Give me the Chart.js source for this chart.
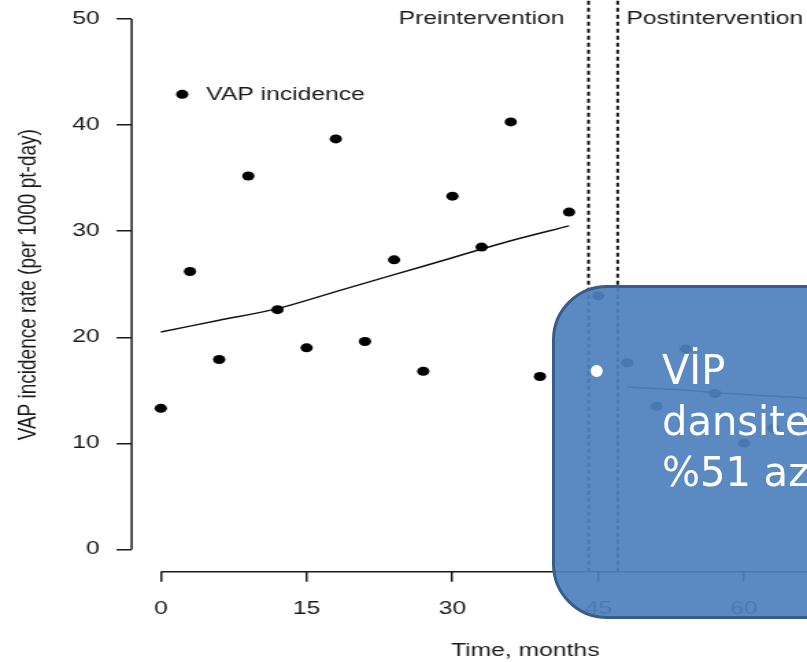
<!DOCTYPE html>
<html>
<head>
<meta charset="utf-8">
<title>VAP incidence</title>
<script src="https://cdn.jsdelivr.net/npm/chart.js@4.4.0/dist/chart.umd.min.js"></script>
<style>
  html, body { margin: 0; padding: 0; background: #fff; overflow: hidden; width: 807px; height: 662px; }
  #wrap { position: absolute; left: 0; top: -20px; width: 700px; height: 700px; transform: scaleX(1.37); transform-origin: 0 0; }
  #note {
    position: absolute; left: 552px; top: 285px; width: 420px; height: 334px;
    box-sizing: border-box; background: rgba(79, 129, 189, 0.93);
    border: 3.5px solid #385d8a; border-radius: 55px;
    color: #fff; font-family: 'DejaVu Sans', sans-serif;
    font-size: 40px; line-height: 51px; white-space: nowrap;
    padding: 57px 0 0 107px;
  }
  #note .bullet { position: absolute; left: 34px; top: 57px; font-family: 'Liberation Sans', Arial, sans-serif; font-size: 44px; }
</style>
</head>
<body>
<div id="wrap"><canvas id="vapChart"></canvas></div>
<div id="note"><span class="bullet">•</span>VİP<br>dansitesinde<br>%51 azalma</div>

<script>
// values
const preMonths = [0, 3, 6, 9, 12, 15, 18, 21, 24, 27, 30, 33, 36, 39, 42];
const preRate = [13.3, 26.2, 17.9, 35.2, 22.6, 19.0, 38.7, 19.6, 27.3, 16.8, 33.3, 28.5, 40.3, 16.3, 31.8];
const postMonths = [45, 48, 51, 54, 57, 60, 63];
const postRate = [23.9, 17.6, 13.5, 18.9, 14.7, 10.0, 11.4];
const preTrendMonths = [0, 6, 12, 18, 24, 30, 36, 42];
const preTrend = [20.5, 21.6, 22.7, 24.3, 25.9, 27.5, 29.1, 30.5];
const postTrendMonths = [48, 54, 60, 66, 69];
const postTrend = [15.3, 15.0, 14.6, 14.3, 14.1];
const phaseBounds = [44, 47];
const phaseLabels = ['Preintervention', 'Postintervention'];
const phaseLabelMonths = [33, 57];
const xTicks = [0, 15, 30, 45, 60, 75];
const yTicks = [0, 10, 20, 30, 40, 50];
const seriesName = 'VAP incidence';

const FONT = "'Liberation Sans', Arial, sans-serif";
const INK = '#1a1a1a';

function pts(xs, ys) {
  return xs.map((x, i) => ({ x: x, y: ys[i] }));
}

// R style axes: lines only over the tick range, plus text labels and legend
const rAxes = {
  id: 'rAxes',
  afterDatasetsDraw(chart) {
    const { ctx, chartArea, scales: { x, y } } = chart;
    ctx.save();
    ctx.strokeStyle = INK;
    ctx.lineWidth = 1.5;
    ctx.beginPath();
    ctx.moveTo(chartArea.left, y.getPixelForValue(yTicks[0]));
    ctx.lineTo(chartArea.left, y.getPixelForValue(yTicks[yTicks.length - 1]));
    ctx.moveTo(x.getPixelForValue(xTicks[0]), chartArea.bottom);
    ctx.lineTo(x.getPixelForValue(xTicks[xTicks.length - 1]), chartArea.bottom);
    ctx.stroke();

    ctx.fillStyle = INK;
    ctx.font = '18px ' + FONT;
    ctx.textAlign = 'center';
    ctx.textBaseline = 'middle';
    phaseLabels.forEach((t, i) => {
      ctx.fillText(t, x.getPixelForValue(phaseLabelMonths[i]), y.getPixelForValue(50));
    });

    // legend inside the plot
    const lx = x.getPixelForValue(2.2);
    const ly = y.getPixelForValue(42.9);
    ctx.fillStyle = '#000';
    ctx.beginPath();
    ctx.arc(lx, ly, 4.5, 0, Math.PI * 2);
    ctx.fill();
    ctx.fillStyle = INK;
    ctx.textAlign = 'left';
    ctx.fillText(seriesName, lx + 17.5, ly + 1);
    ctx.restore();
  }
};

const dotStyle = { pointRadius: 4.5, pointBackgroundColor: '#000', pointBorderWidth: 0, showLine: false };
const trendStyle = { showLine: true, pointRadius: 0, borderColor: '#111', borderWidth: 1.5, tension: 0.3, fill: false };
const boundStyle = { showLine: true, pointRadius: 0, borderColor: '#111', borderWidth: 2, borderDash: [4, 3] };

new Chart(document.getElementById('vapChart'), {
  type: 'scatter',
  data: {
    datasets: [
      Object.assign({ label: seriesName, data: pts(preMonths, preRate) }, dotStyle),
      Object.assign({ label: seriesName + ' post', data: pts(postMonths, postRate) }, dotStyle),
      Object.assign({ label: 'Pre trend', data: pts(preTrendMonths, preTrend) }, trendStyle),
      Object.assign({ label: 'Post trend', data: pts(postTrendMonths, postTrend) }, trendStyle),
      Object.assign({ label: 'Start', data: [{ x: phaseBounds[0], y: -2.1 }, { x: phaseBounds[0], y: 52 }] }, boundStyle),
      Object.assign({ label: 'End', data: [{ x: phaseBounds[1], y: -2.1 }, { x: phaseBounds[1], y: 52 }] }, boundStyle)
    ]
  },
  options: {
    responsive: true,
    maintainAspectRatio: false,
    animation: false,
    layout: { padding: { left: 0, top: 17.8, right: 29.2, bottom: 0 } },
    plugins: {
      legend: { display: false },
      tooltip: { enabled: false }
    },
    scales: {
      x: {
        type: 'linear',
        min: -3,
        max: 78,
        afterBuildTicks: axis => { axis.ticks = xTicks.map(v => ({ value: v })); },
        afterFit: axis => {
          axis.height = 108.3;
          axis.paddingLeft = 0;
          axis.paddingRight = 0;
        },
        grid: { drawOnChartArea: false, drawTicks: true, tickLength: 10, color: INK, lineWidth: 1.5 },
        border: { display: false },
        ticks: { padding: 17, color: INK, font: { family: FONT, size: 18 }, maxRotation: 0, autoSkip: false },
        title: { display: true, text: 'Time, months', color: INK, font: { family: FONT, size: 18 }, padding: { top: 0, bottom: 18.6 } }
      },
      y: {
        min: -2.1,
        max: 52,
        afterBuildTicks: axis => { axis.ticks = yTicks.map(v => ({ value: v })); },
        afterFit: axis => {
          axis.width = 96.1;
          axis.paddingTop = 0;
          axis.paddingBottom = 0;
        },
        grid: { drawOnChartArea: false, drawTicks: true, tickLength: 11, color: INK, lineWidth: 1.5 },
        border: { display: false },
        ticks: { padding: 12.4, color: INK, font: { family: FONT, size: 18 } },
        title: { display: true, text: 'VAP incidence rate (per 1000 pt-day)', color: INK, font: { family: FONT, size: 19 }, padding: { top: 9.8, bottom: 0 } }
      }
    }
  },
  plugins: [rAxes]
});
</script>
</body>
</html>
